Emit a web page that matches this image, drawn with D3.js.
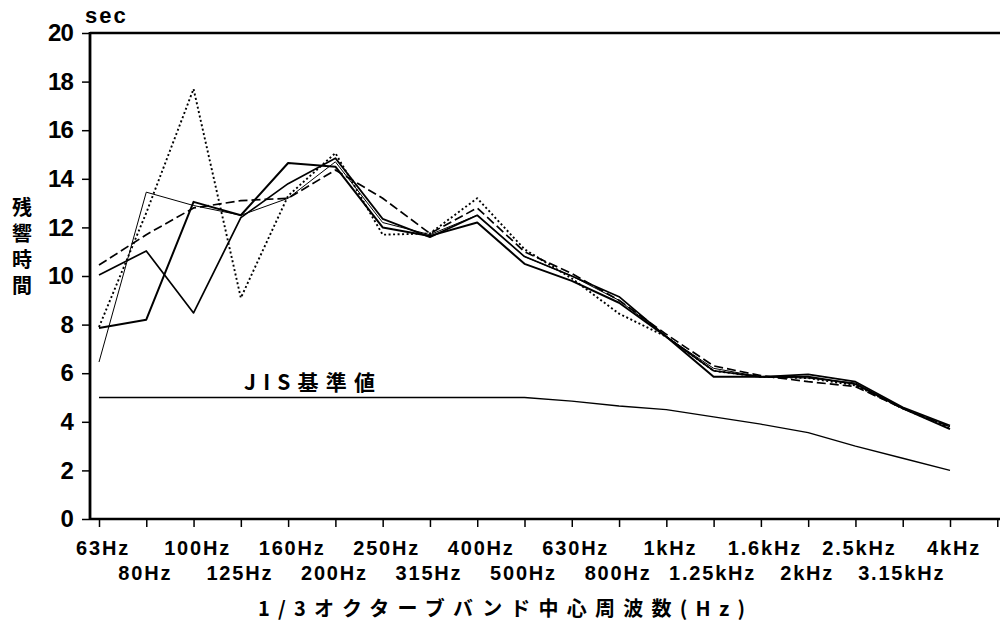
<!DOCTYPE html>
<html><head><meta charset="utf-8">
<script src="https://cdn.jsdelivr.net/npm/d3@7"></script>
<style>
body{margin:0;background:#fff;}
svg{display:block;}
text{fill:#000;}
</style></head>
<body>
<svg id="chart" width="1000" height="624"></svg>
<script>
// ---- data ----
const bands = ["63Hz","80Hz","100Hz","125Hz","160Hz","200Hz","250Hz","315Hz","400Hz","500Hz","630Hz","800Hz","1kHz","1.25kHz","1.6kHz","2kHz","2.5kHz","3.15kHz","4kHz"];
const yTicks = [0,2,4,6,8,10,12,14,16,18,20];
const seriesThick  = [7.86,8.2,13.05,12.5,14.65,14.5,12.0,11.65,12.2,10.5,9.8,8.9,7.5,5.85,5.85,5.85,5.55,4.55,3.7];
const seriesMedium = [10.04,11.03,8.48,12.4,13.8,14.85,12.35,11.6,12.5,10.8,10.0,9.15,7.5,6.1,5.85,5.95,5.65,4.6,3.85];
const seriesThin   = [6.46,13.45,12.9,12.5,13.2,14.7,12.2,11.7,12.5,10.8,10.0,9.0,7.5,6.2,5.85,5.8,5.6,4.55,3.8];
const seriesDotted = [7.9,12.6,17.7,9.1,13.3,15.06,11.7,11.75,13.2,11.1,9.9,8.45,7.5,6.1,5.85,5.8,5.5,4.55,3.75];
const seriesDashed = [10.45,11.7,12.8,13.1,13.2,14.36,13.2,11.75,12.8,11.0,10.1,9.0,7.6,6.3,5.9,5.65,5.45,4.55,3.8];
const jisValues    = [5,5,5,5,5,5,5,5,5,5,4.85,4.65,4.5,4.2,3.9,3.55,3.0,2.5,2.0];
const yLabel = "残響時間";

// ---- layout ----
const svg = d3.select("#chart");
const mLeft = 90, mRight = 1000, mTop = 33, mBottom = 519;
const x = d3.scaleLinear().domain([0, 18]).range([99, 950]);
const y = d3.scaleLinear().domain([0, 20]).range([mBottom, mTop]);
const numFont = "'Liberation Sans', Arial, sans-serif";
const jpFont = "'Noto Sans CJK JP', sans-serif";

// axes frame
svg.append("line").attr("x1", mLeft).attr("x2", mRight).attr("y1", mTop).attr("y2", mTop)
  .attr("stroke", "#000").attr("stroke-width", 2.5);
svg.append("line").attr("x1", mLeft).attr("x2", mRight).attr("y1", mBottom).attr("y2", mBottom)
  .attr("stroke", "#000").attr("stroke-width", 2.5);
svg.append("line").attr("x1", mLeft).attr("x2", mLeft).attr("y1", mTop - 1).attr("y2", mBottom + 1)
  .attr("stroke", "#000").attr("stroke-width", 2.8);

// y axis ticks
const yAxis = d3.axisLeft(y).tickValues(yTicks).tickSize(8).tickPadding(9).tickFormat(d3.format("d"));
const gy = svg.append("g").attr("transform", `translate(${mLeft},0)`).call(yAxis);
gy.select(".domain").remove();
gy.selectAll(".tick line").attr("stroke", "#000").attr("stroke-width", 1.5);
gy.selectAll(".tick text").attr("font-family", numFont).attr("font-weight", "bold")
  .attr("font-size", 24).attr("letter-spacing", -0.8).attr("fill", "#000");

// x axis ticks (one extra unlabeled tick after 4kHz)
const xTickIdx = d3.range(0, bands.length + 1);
const xAxis = d3.axisBottom(x).tickValues(xTickIdx).tickSize(8).tickFormat("");
const gx = svg.append("g").attr("transform", `translate(0,${mBottom})`).call(xAxis);
gx.select(".domain").remove();
gx.selectAll(".tick line").attr("stroke", "#000").attr("stroke-width", 1.5);

// x tick labels in two rows
svg.append("g").selectAll("text").data(bands).join("text")
  .attr("x", (d, i) => x(i) + (i % 2 === 0 ? 4 : -1))
  .attr("y", (d, i) => i % 2 === 0 ? 555 : 580)
  .attr("text-anchor", "middle")
  .attr("font-family", numFont).attr("font-weight", "bold")
  .attr("font-size", 20).attr("letter-spacing", 1.8)
  .text(d => d);

// lines
const line = d3.line().x((d, i) => x(i)).y(d => y(d));
const styles = [
  {data: jisValues, w: 1.3, dash: null},
  {data: seriesDashed, w: 1.7, dash: "9,4"},
  {data: seriesDotted, w: 1.9, dash: "2,2.5"},
  {data: seriesThin, w: 1.0, dash: null},
  {data: seriesMedium, w: 1.7, dash: null},
  {data: seriesThick, w: 2.0, dash: null}
];
svg.append("g").selectAll("path").data(styles).join("path")
  .attr("d", s => line(s.data))
  .attr("fill", "none").attr("stroke", "#000")
  .attr("stroke-width", s => s.w)
  .attr("stroke-dasharray", s => s.dash)
  .attr("stroke-linejoin", "round");

// labels
svg.append("text").attr("x", 85).attr("y", 23)
  .attr("font-family", numFont).attr("font-weight", "bold")
  .attr("font-size", 22).attr("letter-spacing", 2).text("sec");

svg.append("text").attr("x", 244).attr("y", 390)
  .attr("font-family", jpFont).attr("font-weight", "bold")
  .attr("font-size", 21).attr("textLength", 131).attr("lengthAdjust", "spacing")
  .text("JIS基準値");

svg.append("text").attr("x", 22).attr("y", 197)
  .attr("font-family", jpFont).attr("font-weight", "bold")
  .attr("font-size", 20).attr("letter-spacing", 6)
  .style("writing-mode", "vertical-rl").style("text-orientation", "upright")
  .text(yLabel);

svg.append("text").attr("x", 258).attr("y", 616)
  .attr("font-family", jpFont).attr("font-weight", "bold")
  .attr("font-size", 20).attr("textLength", 487).attr("lengthAdjust", "spacing")
  .text("1/3オクターブバンド中心周波数(Hz)");
</script>
</body></html>
